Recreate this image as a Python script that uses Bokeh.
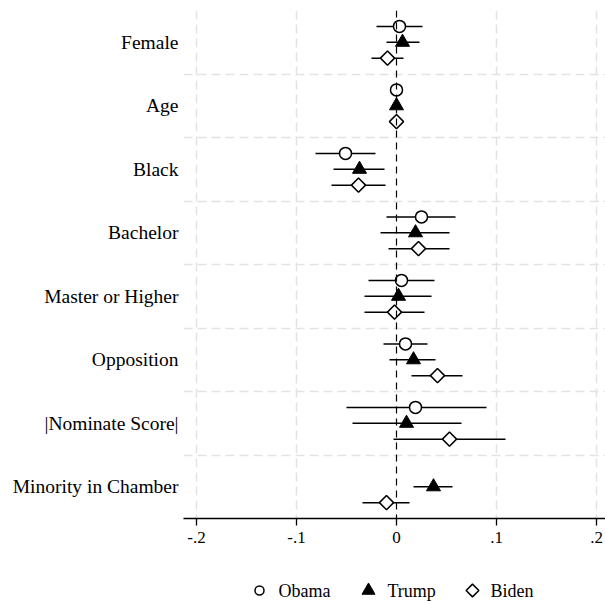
import numpy as np
from bokeh.plotting import figure
from bokeh.layouts import column
from bokeh.models import (Range1d, FixedTicker, Span, ColumnDataSource)
from bokeh.core.properties import value
from bokeh.embed import file_html
from bokeh.resources import INLINE

categories = ["Female", "Age", "Black", "Bachelor", "Master or Higher",
              "Opposition", "|Nominate Score|", "Minority in Chamber"]

obama_est = [0.003, 0.000, -0.051, 0.025, 0.005, 0.009, 0.019, None]
obama_lo = [-0.020, -0.001, -0.081, -0.010, -0.028, -0.013, -0.050, None]
obama_hi = [0.026, 0.001, -0.021, 0.059, 0.038, 0.031, 0.090, None]

trump_est = [0.006, 0.000, -0.037, 0.019, 0.002, 0.017, 0.010, 0.037]
trump_lo = [-0.010, -0.001, -0.063, -0.016, -0.032, -0.007, -0.044, 0.017]
trump_hi = [0.023, 0.001, -0.012, 0.053, 0.035, 0.039, 0.065, 0.056]

biden_est = [-0.009, 0.000, -0.038, 0.022, -0.002, 0.041, 0.053, -0.010]
biden_lo = [-0.025, -0.001, -0.065, -0.008, -0.032, 0.015, -0.003, -0.034]
biden_hi = [0.007, 0.001, -0.011, 0.053, 0.028, 0.066, 0.109, 0.013]

series_names = ["Obama", "Trump", "Biden"]

x_ticks = [-0.2, -0.1, 0.0, 0.1, 0.2]
x_tick_labels = ["-.2", "-.1", "0", ".1", ".2"]

FONT = "Liberation Serif"

# marker styles per series
styles = {
    "Obama": dict(marker="circle", size=12, fill_color="white",
                  line_color="black", line_width=1.5, angle=0.0),
    "Trump": dict(marker="triangle", size=14, fill_color="black",
                  line_color="black", line_width=1, angle=0.0),
    "Biden": dict(marker="square", size=10, fill_color="white",
                  line_color="black", line_width=1.5, angle=np.pi / 4),
}
legend_styles = {
    "Obama": dict(marker="circle", size=9, fill_color="white",
                  line_color="black", line_width=1.5, angle=0.0),
    "Trump": dict(marker="triangle", size=13, fill_color="black",
                  line_color="black", line_width=1, angle=0.0),
    "Biden": dict(marker="square", size=9, fill_color="white",
                  line_color="black", line_width=1.5, angle=np.pi / 4),
}

p = figure(width=605, height=560, output_backend="svg", toolbar_location=None,
           x_range=Range1d(-0.213, 0.209), y_range=Range1d(8.5, 0.5),
           min_border_left=183, min_border_right=0, min_border_top=10,
           min_border_bottom=42)
p.outline_line_color = None
p.background_fill_color = "white"
p.border_fill_color = "white"

# grids
p.xgrid.ticker = FixedTicker(ticks=[-0.2, -0.1, 0.1, 0.2])
p.xgrid.grid_line_color = "#e3e3e3"
p.xgrid.grid_line_width = 1.5
p.xgrid.grid_line_dash = "9 5"
p.ygrid.ticker = FixedTicker(ticks=[i + 1.5 for i in range(len(categories) - 1)])
p.ygrid.grid_line_color = "#e3e3e3"
p.ygrid.grid_line_width = 1.5
p.ygrid.grid_line_dash = "9 5"

# x axis
p.xaxis.ticker = FixedTicker(ticks=x_ticks)
p.xaxis.major_label_overrides = {t: l for t, l in zip(x_ticks, x_tick_labels)}
p.xaxis.axis_line_color = "black"
p.xaxis.axis_line_width = 1.3
p.xaxis.major_tick_line_color = "black"
p.xaxis.major_tick_line_width = 1.3
p.xaxis.major_tick_out = 7
p.xaxis.major_tick_in = 0
p.xaxis.minor_tick_line_color = None
p.xaxis.major_label_text_font = FONT
p.xaxis.major_label_text_font_size = "17px"
p.xaxis.major_label_text_color = "black"
p.xaxis.major_label_standoff = 6

# y axis
p.yaxis.ticker = FixedTicker(ticks=list(range(1, len(categories) + 1)))
p.yaxis.major_label_overrides = {i + 1: c for i, c in enumerate(categories)}
p.yaxis.axis_line_color = None
p.yaxis.major_tick_line_color = None
p.yaxis.major_tick_out = 0
p.yaxis.major_tick_in = 0
p.yaxis.minor_tick_line_color = None
p.yaxis.major_label_text_font = FONT
p.yaxis.major_label_text_font_size = "19.5px"
p.yaxis.major_label_text_color = "black"
p.yaxis.major_label_standoff = 5

# zero line
p.add_layout(Span(location=0, dimension="height", line_color="black",
                  line_width=1.2, line_dash="7 5"))

offset = 0.25
series = [
    ("Obama", obama_est, obama_lo, obama_hi, -offset),
    ("Trump", trump_est, trump_lo, trump_hi, 0.0),
    ("Biden", biden_est, biden_lo, biden_hi, offset),
]

for name, est, lo, hi, off in series:
    ys, xs, los, his = [], [], [], []
    for i, (e, l, h) in enumerate(zip(est, lo, hi)):
        if e is None:
            continue
        ys.append(i + 1 + off)
        xs.append(e)
        los.append(l)
        his.append(h)
    src = ColumnDataSource(dict(y=ys, x=xs, lo=los, hi=his))
    p.segment(x0="lo", x1="hi", y0="y", y1="y", source=src,
              line_color="black", line_width=1.5)
    p.scatter("x", "y", source=src, **styles[name])

# legend strip (separate small figure; its frame is aligned with the main frame,
# so the x range is expressed in page pixels 183..605)
lg = figure(width=605, height=43, output_backend="svg", toolbar_location=None,
            x_range=Range1d(183, 605), y_range=Range1d(43, 0),
            min_border_left=183, min_border_right=0, min_border_top=0,
            min_border_bottom=0, x_axis_location=None, y_axis_location=None)
lg.outline_line_color = None
lg.xgrid.visible = False
lg.ygrid.visible = False
legend_marker_x = [259, 368, 472]
legend_text_x = [278, 387, 490]
legend_y = 30
for name, mx, tx in zip(series_names, legend_marker_x, legend_text_x):
    lg.scatter([mx], [legend_y], **legend_styles[name])
    lg.text([tx], [legend_y], text=[name], text_font=value(FONT),
            text_font_size="18px", text_color="black",
            text_baseline="middle", text_align="left")

layout = column(p, lg, spacing=0)
open("out.html", "w").write(file_html(layout, INLINE))
